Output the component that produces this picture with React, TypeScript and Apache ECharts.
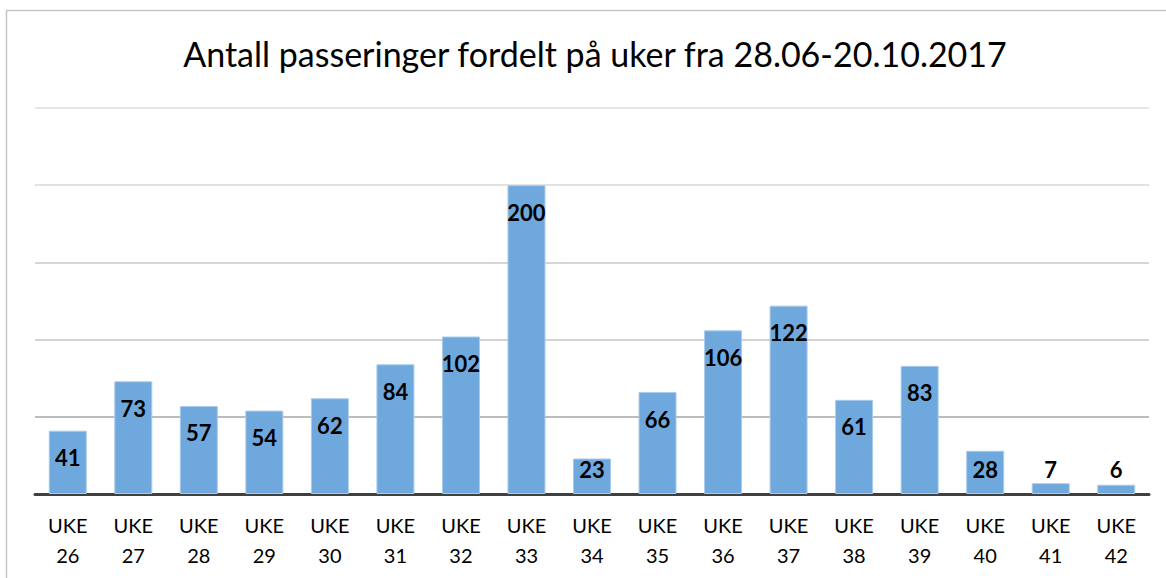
import React, { useEffect, useRef } from "react";
import * as echarts from "echarts";

const TITLE = "Antall passeringer fordelt på uker fra 28.06-20.10.2017";
const WEEKS = ["26", "27", "28", "29", "30", "31", "32", "33", "34", "35", "36", "37", "38", "39", "40", "41", "42"];
const VALUES = [41, 73, 57, 54, 62, 84, 102, 200, 23, 66, 106, 122, 61, 83, 28, 7, 6];
const Y_MAX = 250;
const Y_STEP = 50;

export default function App() {
  const ref = useRef<HTMLDivElement>(null);
  useEffect(() => {
    if (!ref.current) return;
    const chart = echarts.init(ref.current, null, { renderer: "svg" });
    const categories = WEEKS.map((w) => "UKE\n" + w);
    const data = VALUES.map((v) => ({
      value: v,
      label:
        v < 34
          ? { position: "insideBottom", distance: 14 }
          : { position: "insideTop", distance: 16 },
    }));
    chart.setOption({
      animation: false,
      backgroundColor: "#ffffff",
      title: {
        text: TITLE,
        left: 590,
        textAlign: "center",
        top: 31,
        textStyle: { fontFamily: "Lato", fontSize: 34, fontWeight: "normal", color: "#000000" },
      },
      graphic: [
        { type: "line", shape: { x1: 6.5, y1: 10, x2: 6.5, y2: 578 }, style: { stroke: "#c6c6c6", lineWidth: 1.5 } },
        { type: "line", shape: { x1: 6, y1: 10.5, x2: 1166, y2: 10.5 }, style: { stroke: "#c6c6c6", lineWidth: 1.5 } },
      ],
      grid: { left: 35, right: 17, top: 108, bottom: 84 },
      xAxis: {
        type: "category",
        data: categories,
        axisLine: { show: true, lineStyle: { color: "#404040", width: 3 } },
        axisTick: { show: false },
        axisLabel: {
          fontFamily: "Lato",
          fontSize: 20,
          color: "#000000",
          lineHeight: 30,
          margin: 16,
          interval: 0,
        },
      },
      yAxis: {
        type: "value",
        min: 0,
        max: Y_MAX,
        interval: Y_STEP,
        axisLabel: { show: false },
        axisLine: { show: false },
        axisTick: { show: false },
        splitLine: {
          show: true,
          lineStyle: {
            color: ["#bfbfbf", "#a6a6a6", "#c4c4c4", "#c8c8c8", "#d9d9d9", "#dedede"],
            width: 1.5,
          },
        },
      },
      series: [
        {
          type: "bar",
          data,
          barWidth: 38,
          itemStyle: { color: "#6fa8dc", borderColor: "#a9cbeb", borderWidth: 1 },
          label: {
            show: true,
            fontFamily: "Lato",
            fontWeight: "bold",
            fontSize: 22,
            color: "#000000",
          },
        },
      ],
    });
    return () => chart.dispose();
  }, []);
  return (
    <div
      ref={ref}
      style={{ position: "fixed", left: 0, top: 0, width: 1166, height: 578, background: "#fff" }}
    />
  );
}
